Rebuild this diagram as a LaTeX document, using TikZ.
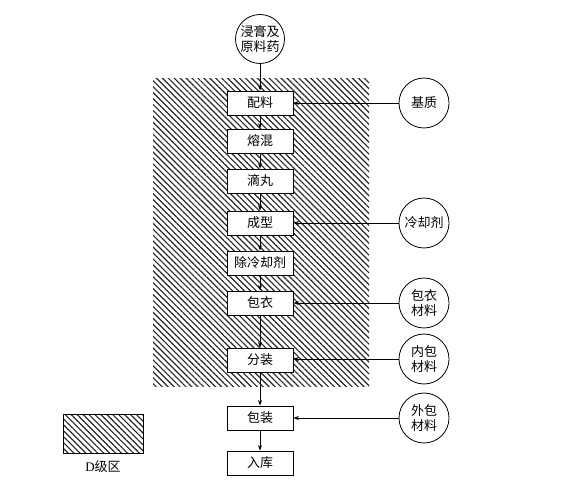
\documentclass[tikz,border=0pt]{standalone}
\usepackage{fontspec}
\setmainfont{Noto Sans CJK SC}
\newfontfamily\latinser{Liberation Serif}
\usetikzlibrary{patterns.meta,arrows.meta}
\begin{document}
\begin{tikzpicture}[x=1pt,y=-1pt,
  font=\fontsize{13}{15}\selectfont,
  hatch/.style={pattern={Lines[angle=-45,distance=4.2pt,line width=1.15pt]}, pattern color=black!85},
  proc/.style={draw, line width=0.8pt, fill=white, minimum width=66pt, minimum height=24pt, inner sep=0pt},
  src/.style={draw, circle, line width=0.8pt, fill=white, minimum size=#1, inner sep=0pt, align=center},
  src/.default=50pt,
  flow/.style={line width=0.8pt, -{Stealth[length=5.5pt,width=4pt]}}]
\useasboundingbox (0,0) rectangle (565,486);
% D-class zone
\node[hatch, minimum width=216pt, minimum height=307pt, inner sep=0pt] (zone) at (261,232.5) {};
% main chain
\node[src=49pt] (s0) at (260,39) {浸膏及\\原料药};
\node[proc] (b1) at (260,103) {配料};
\node[proc] (b2) at (260,141) {熔混};
\node[proc] (b3) at (260,181) {滴丸};
\node[proc] (b4) at (260,223) {成型};
\node[proc] (b5) at (260,263) {除冷却剂};
\node[proc] (b6) at (260,303) {包衣};
\node[proc] (b7) at (260,360) {分装};
\node[proc] (b8) at (260,418) {包装};
\node[proc] (b9) at (260,463) {入库};
% side inputs
\node[src] (c1) at (424,103) {基质};
\node[src] (c2) at (424,223) {冷却剂};
\node[src] (c3) at (424,303) {包衣\\材料};
\node[src] (c4) at (424,359) {内包\\材料};
\node[src] (c5) at (424,418) {外包\\材料};
% legend
\node[hatch, draw, line width=0.6pt, minimum width=80pt, minimum height=39pt, inner sep=0pt] (leg) at (103,433.5) {};
\node (legl) at (103,467) {{\latinser D}级区};
% connectors
\draw[flow] (s0) -- (b1);
\draw[flow] (b1) -- (b2);
\draw[flow] (b2) -- (b3);
\draw[flow] (b3) -- (b4);
\draw[flow] (b4) -- (b5);
\draw[flow] (b5) -- (b6);
\draw[flow] (b6) -- (b7);
\draw[flow] (b7) -- (b8);
\draw[flow] (b8) -- (b9);
\draw[flow] (c1) -- (b1);
\draw[flow] (c2) -- (b4);
\draw[flow] (c3) -- (b6);
\draw[flow] (c4.west) -- (b7.east |- c4.west);
\draw[flow] (c5) -- (b8);
\end{tikzpicture}
\end{document}
